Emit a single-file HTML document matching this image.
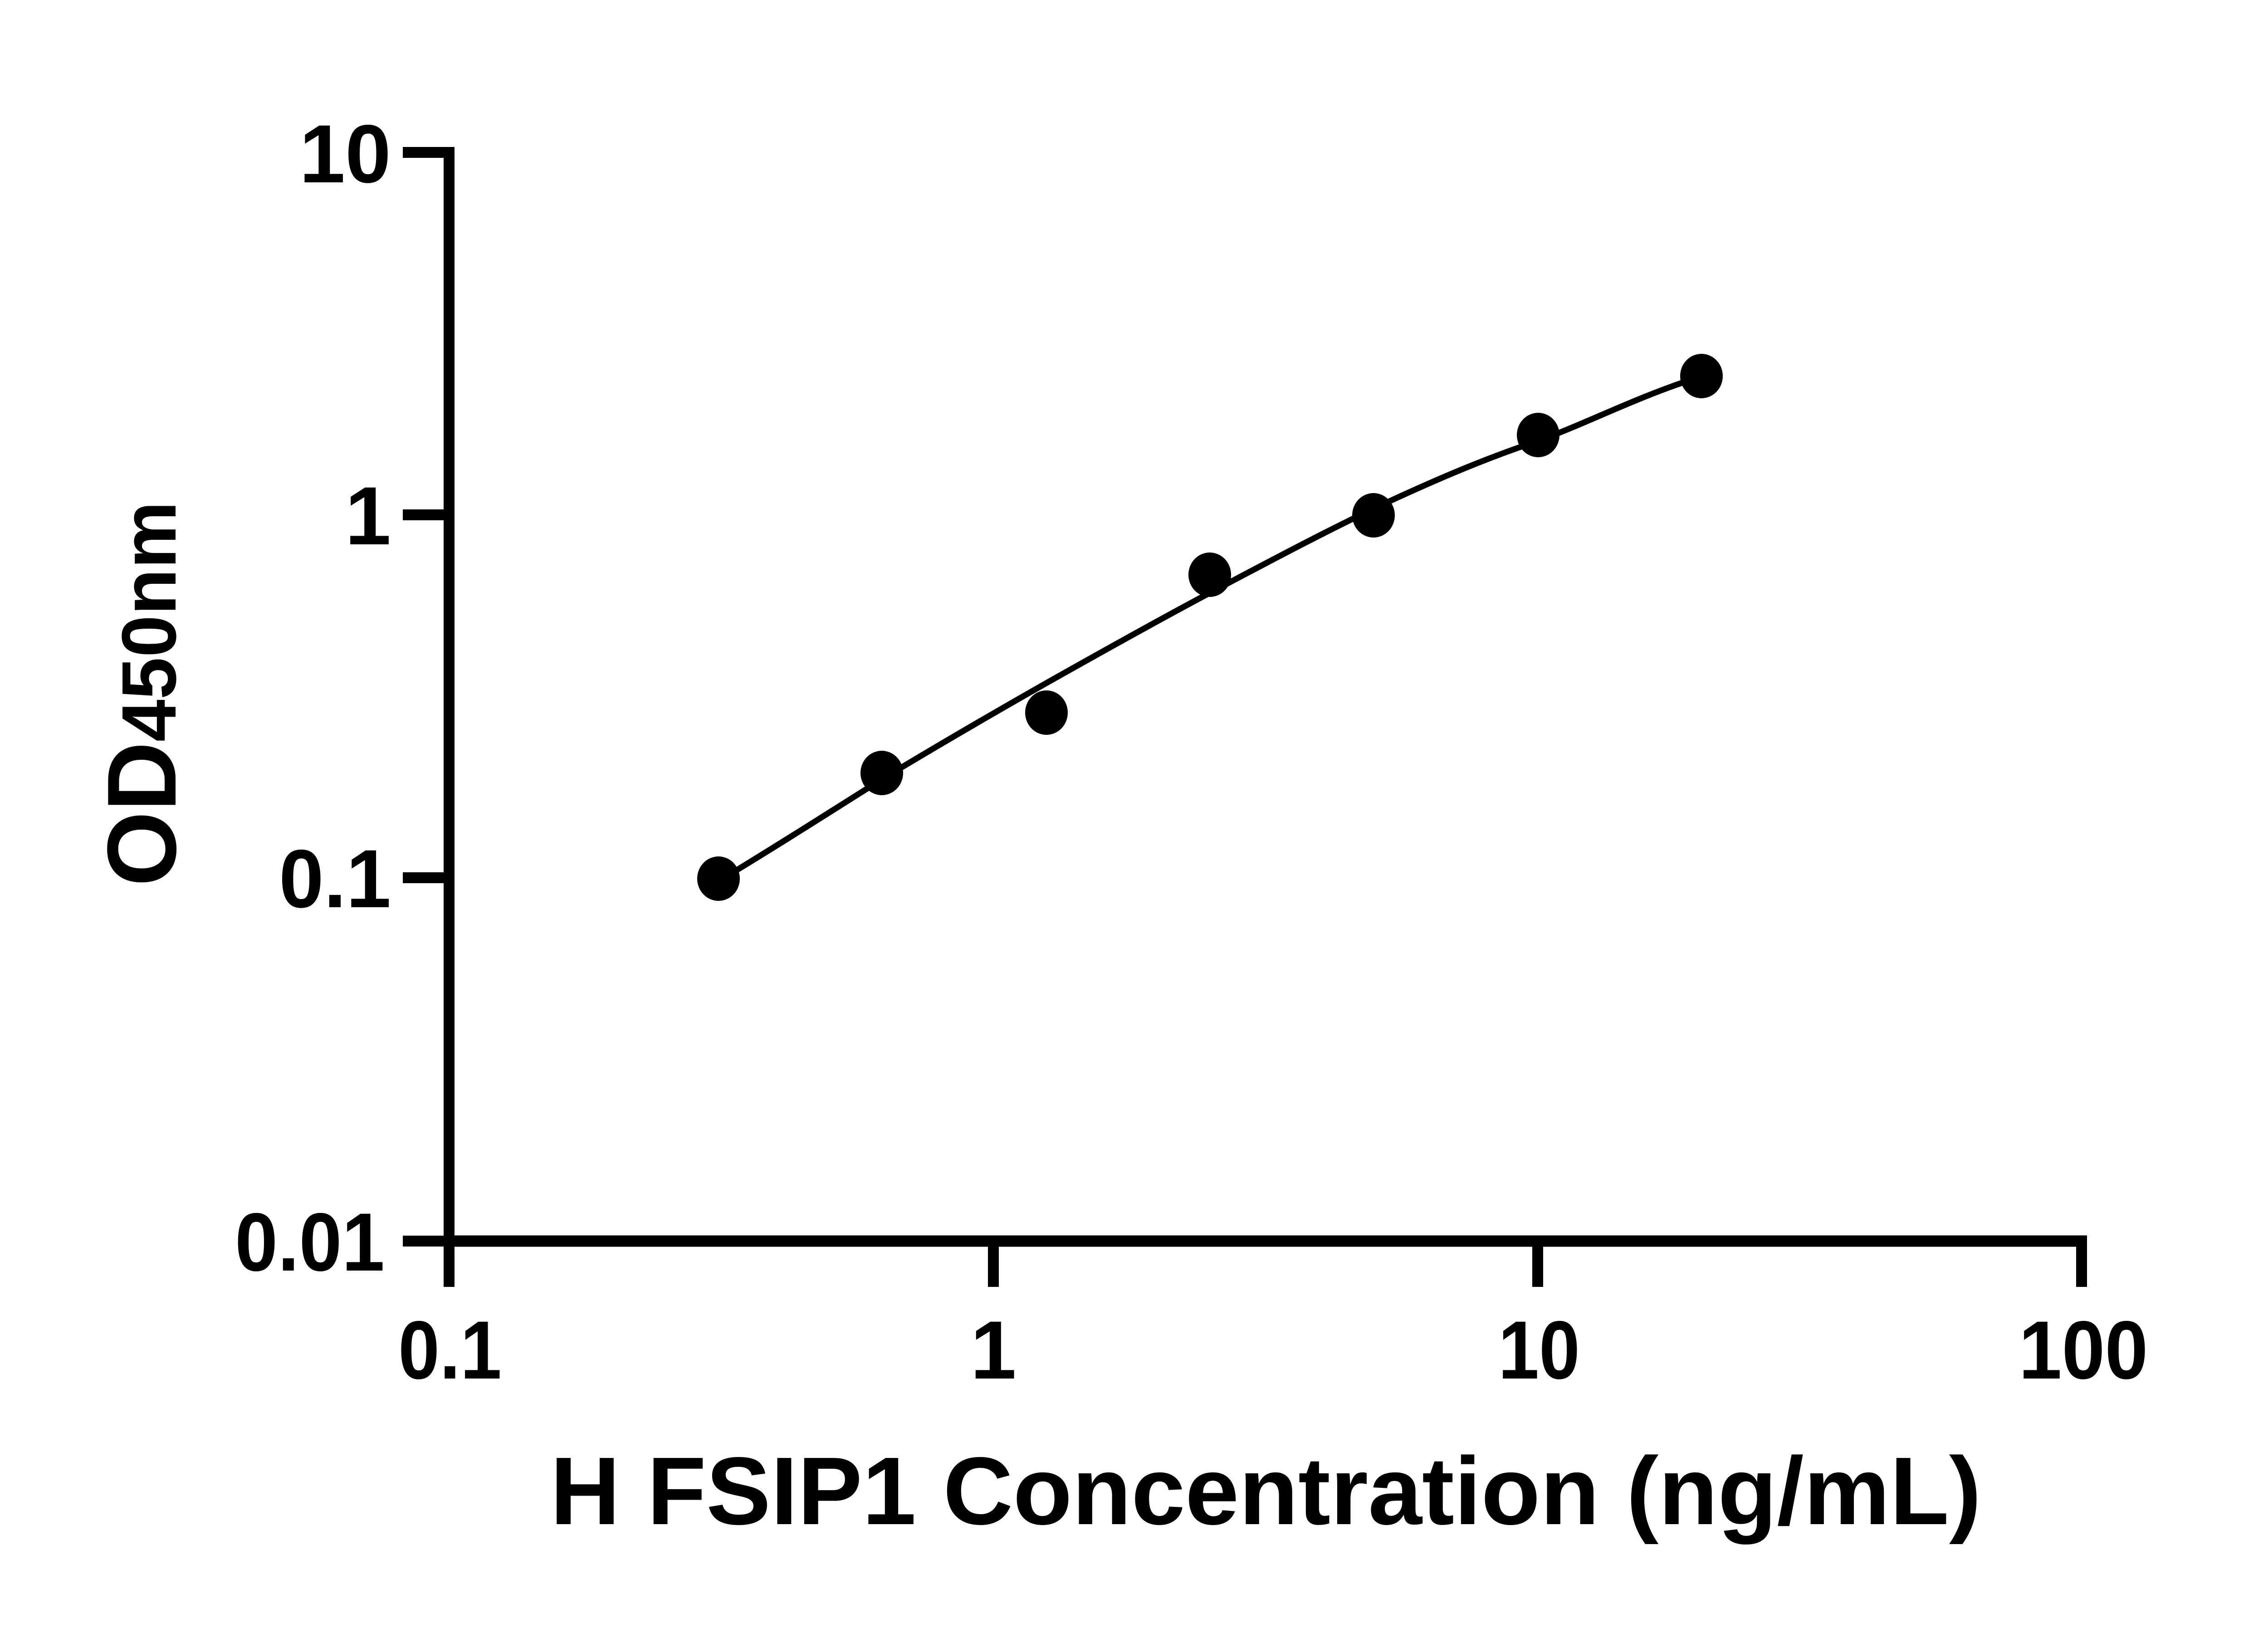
<!DOCTYPE html>
<html><head><meta charset="utf-8"><style>
html,body{margin:0;padding:0;background:#fff;}
svg{display:block;}
text{font-family:"Liberation Sans",sans-serif;font-weight:bold;fill:#000;}
</style></head><body>
<svg width="5142" height="3600" viewBox="0 0 5142 3600" xmlns="http://www.w3.org/2000/svg">
<rect width="5142" height="3600" fill="#fff"/>
<line x1="990" y1="324" x2="990" y2="2748" stroke="#000" stroke-width="24"/>
<line x1="978" y1="2736" x2="4601" y2="2736" stroke="#000" stroke-width="25"/>
<g stroke="#000" stroke-width="24">
<line x1="888" y1="336" x2="1000" y2="336"/>
<line x1="888" y1="1135" x2="1000" y2="1135"/>
<line x1="888" y1="1935" x2="1000" y2="1935"/>
<line x1="888" y1="2736" x2="1000" y2="2736"/>
<line x1="990" y1="2730" x2="990" y2="2837"/>
<line x1="2190" y1="2730" x2="2190" y2="2837"/>
<line x1="3390" y1="2730" x2="3390" y2="2837"/>
<line x1="4589" y1="2730" x2="4589" y2="2837"/>
</g>
<g font-size="182" text-anchor="end">
<text x="862" y="402" textLength="202" lengthAdjust="spacingAndGlyphs">10</text>
<text x="862" y="1200">1</text>
<text x="862" y="2000" textLength="247" lengthAdjust="spacingAndGlyphs">0.1</text>
<text x="848" y="2801" textLength="330" lengthAdjust="spacingAndGlyphs">0.01</text>
</g>
<g font-size="182" text-anchor="middle">
<text x="992" y="3039" textLength="228" lengthAdjust="spacingAndGlyphs">0.1</text>
<text x="2190" y="3039">1</text>
<text x="3393" y="3039" textLength="180" lengthAdjust="spacingAndGlyphs">10</text>
<text x="4593" y="3039" textLength="285" lengthAdjust="spacingAndGlyphs">100</text>
</g>
<text x="1213" y="3360" font-size="212" textLength="3155" lengthAdjust="spacingAndGlyphs">H FSIP1 Concentration (ng/mL)</text>
<text transform="translate(387,1954) rotate(-90)" textLength="849" lengthAdjust="spacingAndGlyphs"><tspan font-size="216">OD</tspan><tspan font-size="170">450nm</tspan></text>
<path d="M1600,1933 C1720,1860 1830,1790 1944,1718 C2060,1648 2180,1578 2296,1512 C2420,1442 2545,1372 2667,1307 C2790,1242 2910,1178 3031,1120 C3155,1062 3270,1012 3391,972 C3500,932 3610,875 3735,835" fill="none" stroke="#000" stroke-width="13"/>
<g fill="#000">
<ellipse cx="1584" cy="1937" rx="47" ry="49"/>
<ellipse cx="1944" cy="1704" rx="47" ry="49"/>
<ellipse cx="2307" cy="1571" rx="47" ry="49"/>
<ellipse cx="2667" cy="1267" rx="47" ry="49"/>
<ellipse cx="3028" cy="1136" rx="47" ry="49"/>
<ellipse cx="3391" cy="959" rx="47" ry="49"/>
<ellipse cx="3751" cy="829" rx="47" ry="49"/>
</g>
</svg>
</body></html>
